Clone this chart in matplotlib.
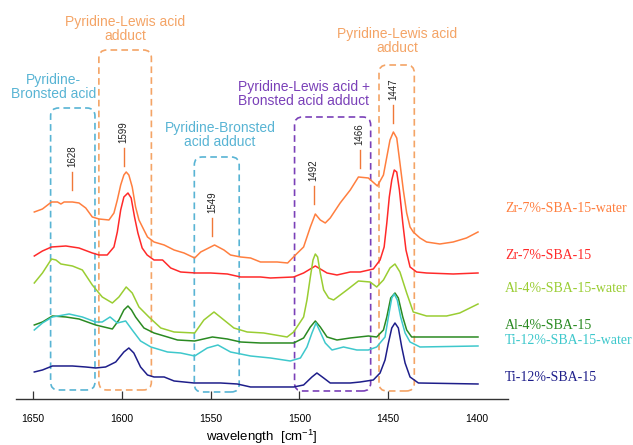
# -*- coding: utf-8 -*-

import numpy as np
import matplotlib
matplotlib.use("Agg")
import matplotlib.pyplot as plt
from matplotlib.patches import FancyBboxPatch

plt.rcParams["font.family"] = ["Liberation Sans", "DejaVu Sans"]
plt.rcParams["mathtext.fontset"] = "custom"
plt.rcParams["mathtext.rm"] = "Liberation Sans"

# spectra, wavenumber [cm-1] vs stacked absorbance (a.u.)
zr_water_wn = [1649.4, 1644.8, 1639.7, 1636.3, 1634.4, 1632.6, 1627.9, 1624.2, 1620.4, 1616.7,
               1612.9, 1607.3, 1604.5, 1602.6, 1600.7, 1598.9, 1597.6, 1596.1, 1594.2, 1592.3,
               1590.4, 1587.6, 1585.6, 1581.9, 1576.2, 1570.6, 1565.0, 1559.0, 1555.6, 1547.8,
               1542.5, 1538.8, 1533.1, 1527.5, 1521.9, 1512.5, 1506.6, 1502.2, 1497.6, 1493.8,
               1491.0, 1488.2, 1485.4, 1482.6, 1477.0, 1471.3, 1466.7, 1461.1, 1456.0, 1452.6,
               1450.7, 1448.9, 1447.0, 1445.1, 1443.3, 1441.4, 1439.5, 1437.6, 1435.8, 1432.0,
               1428.3, 1420.8, 1413.3, 1405.8, 1399.3]
zr_water_ab = [1.87, 1.90, 1.97, 1.97, 1.95, 1.97, 1.97, 1.96, 1.91, 1.82,
               1.80, 1.79, 1.86, 1.99, 2.14, 2.24, 2.27, 2.24, 2.12, 1.92,
               1.79, 1.69, 1.62, 1.57, 1.54, 1.49, 1.46, 1.41, 1.47, 1.54,
               1.49, 1.44, 1.42, 1.41, 1.37, 1.37, 1.36, 1.44, 1.52, 1.72,
               1.85, 1.79, 1.76, 1.81, 1.96, 2.09, 2.22, 2.21, 2.13, 2.24,
               2.42, 2.59, 2.67, 2.61, 2.36, 2.09, 1.86, 1.72, 1.67, 1.61,
               1.57, 1.55, 1.57, 1.61, 1.67]

zr_wn = [1649.4, 1644.8, 1639.7, 1631.6, 1624.2, 1616.7, 1612.9, 1608.3, 1604.5, 1602.6,
         1600.7, 1598.9, 1596.6, 1594.8, 1592.9, 1591.0, 1588.6, 1585.8, 1581.9, 1577.1,
         1572.5, 1566.9, 1558.4, 1550.0, 1540.6, 1533.1, 1521.9, 1516.3, 1503.2, 1497.6,
         1491.0, 1484.4, 1478.8, 1471.3, 1465.7, 1458.3, 1454.5, 1452.2, 1450.7, 1449.3,
         1447.9, 1446.5, 1445.1, 1443.6, 1441.7, 1439.9, 1437.6, 1433.9, 1428.3, 1413.3,
         1399.3]
zr_ab = [1.43, 1.48, 1.52, 1.53, 1.51, 1.46, 1.44, 1.44, 1.52, 1.67,
         1.89, 2.02, 2.06, 2.01, 1.82, 1.66, 1.51, 1.44, 1.39, 1.39,
         1.31, 1.27, 1.26, 1.26, 1.25, 1.22, 1.22, 1.21, 1.22, 1.26,
         1.33, 1.26, 1.24, 1.27, 1.27, 1.30, 1.39, 1.52, 1.76, 2.02,
         2.19, 2.29, 2.27, 2.09, 1.76, 1.49, 1.32, 1.27, 1.26, 1.25,
         1.26]

al_water_wn = [1649.4, 1644.8, 1639.7, 1637.2, 1634.4, 1627.9, 1622.3, 1616.7, 1611.1, 1605.4,
               1601.7, 1597.6, 1594.2, 1590.4, 1584.8, 1578.1, 1570.6, 1559.0, 1553.8, 1548.1,
               1542.5, 1536.9, 1529.4, 1520.1, 1506.9, 1503.2, 1497.6, 1495.7, 1493.8, 1492.3,
               1491.0, 1489.7, 1488.2, 1486.3, 1483.5, 1480.7, 1473.2, 1466.7, 1460.1, 1456.4,
               1452.6, 1448.9, 1446.1, 1443.3, 1439.5, 1435.8, 1428.3, 1417.0, 1409.6, 1399.3]
al_water_ab = [1.16, 1.26, 1.40, 1.39, 1.35, 1.33, 1.29, 1.14, 1.02, 0.96,
               1.02, 1.12, 1.06, 0.92, 0.82, 0.71, 0.67, 0.66, 0.79, 0.87,
               0.79, 0.71, 0.67, 0.66, 0.62, 0.67, 0.82, 0.99, 1.22, 1.39,
               1.45, 1.42, 1.26, 1.09, 1.01, 0.99, 1.09, 1.18, 1.17, 1.12,
               1.19, 1.31, 1.35, 1.27, 1.06, 0.87, 0.83, 0.83, 0.86, 0.95]

al_wn = [1649.4, 1644.8, 1639.2, 1631.6, 1624.2, 1614.8, 1605.4, 1601.7, 1598.9, 1596.6,
         1594.6, 1592.3, 1587.6, 1581.9, 1574.3, 1568.7, 1559.0, 1549.0, 1540.6, 1533.1,
         1521.9, 1503.2, 1497.6, 1493.8, 1491.0, 1488.2, 1484.4, 1478.8, 1471.3, 1461.1,
         1456.4, 1452.6, 1450.7, 1448.5, 1446.1, 1444.2, 1441.7, 1439.5, 1436.7, 1432.0,
         1399.3]
al_ab = [0.74, 0.77, 0.83, 0.82, 0.80, 0.74, 0.70, 0.79, 0.89, 0.93,
         0.89, 0.82, 0.71, 0.66, 0.62, 0.59, 0.58, 0.62, 0.60, 0.57,
         0.56, 0.56, 0.61, 0.72, 0.78, 0.72, 0.62, 0.59, 0.61, 0.63,
         0.62, 0.69, 0.82, 1.01, 1.06, 1.01, 0.82, 0.69, 0.62, 0.62,
         0.62]

ti_water_wn = [1649.4, 1644.8, 1639.2, 1629.8, 1622.3, 1614.8, 1611.1, 1606.7, 1602.6, 1597.9,
               1594.2, 1589.5, 1583.7, 1574.3, 1566.9, 1559.0, 1551.9, 1545.9, 1538.8, 1533.1,
               1527.5, 1516.3, 1505.1, 1499.4, 1495.7, 1492.9, 1490.6, 1488.2, 1485.4, 1481.6,
               1475.1, 1467.6, 1461.1, 1456.4, 1451.7, 1449.8, 1447.9, 1446.5, 1444.8, 1442.9,
               1440.4, 1437.6, 1432.0, 1399.3]
ti_water_ab = [0.69, 0.76, 0.82, 0.85, 0.82, 0.77, 0.77, 0.82, 0.76, 0.78,
               0.69, 0.58, 0.52, 0.47, 0.46, 0.43, 0.51, 0.54, 0.47, 0.45,
               0.43, 0.41, 0.38, 0.41, 0.52, 0.66, 0.76, 0.67, 0.56, 0.49,
               0.52, 0.49, 0.49, 0.52, 0.62, 0.82, 1.01, 1.05, 0.99, 0.82,
               0.66, 0.57, 0.52, 0.53]

ti_wn = [1649.4, 1644.8, 1639.2, 1627.9, 1620.4, 1614.8, 1609.2, 1603.5, 1598.9, 1596.1,
         1593.3, 1589.5, 1585.6, 1581.9, 1576.2, 1570.6, 1559.4, 1544.4, 1535.0, 1527.5,
         1503.2, 1497.6, 1492.9, 1490.1, 1486.3, 1482.6, 1471.3, 1465.7, 1458.3, 1454.5,
         1451.7, 1449.8, 1447.9, 1446.1, 1444.2, 1442.3, 1440.4, 1437.6, 1432.9, 1399.3]
ti_ab = [0.27, 0.29, 0.33, 0.33, 0.32, 0.31, 0.32, 0.37, 0.47, 0.51,
         0.46, 0.32, 0.24, 0.22, 0.22, 0.18, 0.16, 0.16, 0.15, 0.12,
         0.12, 0.14, 0.22, 0.26, 0.21, 0.16, 0.16, 0.17, 0.19, 0.26,
         0.39, 0.56, 0.71, 0.76, 0.71, 0.52, 0.36, 0.22, 0.16, 0.15]

sample_names = ["Zr-7%-SBA-15-water", "Zr-7%-SBA-15", "Al-4%-SBA-15-water",
                "Al-4%-SBA-15", "Ti-12%-SBA-15-water", "Ti-12%-SBA-15"]
name_levels = [1.90, 1.43, 1.10, 0.73, 0.58, 0.21]

peak_labels = [1628, 1599, 1549, 1492, 1466, 1447]
peak_text_y = [2.43, 2.67, 1.97, 2.29, 2.65, 3.10]

wn_ticks = [1650, 1600, 1550, 1500, 1450, 1400]

colors = ["#ff7f3f", "#ff2a2a", "#9acd32", "#2a8a22", "#3ec8cc", "#1e1e8a"]
c_orange = "#f4a466"
c_cyan = "#58b4d4"
c_purple = "#7a40b8"


def DrawBox(ax, x_left, x_right, y_bot, y_top, color):
    box = FancyBboxPatch((x_right, y_bot), x_left - x_right, y_top - y_bot,
                         boxstyle="round,pad=0,rounding_size=4.5", mutation_aspect=0.0178,
                         fill=False, ec=color, lw=1.2, ls=(0, (4, 2.5)), clip_on=False)
    ax.add_patch(box)


def FigureResult():
    fig = plt.figure(figsize=(6.33, 4.45), dpi=100)
    ax = fig.add_axes([0.0253, 0.1034, 0.7772, 0.8966])

    spectra = [(zr_water_wn, zr_water_ab), (zr_wn, zr_ab), (al_water_wn, al_water_ab),
               (al_wn, al_ab), (ti_water_wn, ti_water_ab), (ti_wn, ti_ab)]
    for (wn, ab), c in zip(spectra, colors):
        ax.plot(wn, ab, color=c, lw=1.1)

    # right-hand sample names
    for name, lv, c in zip(sample_names, name_levels, colors):
        ax.text(1384.1, lv, name, color=c, fontsize=10, family="Liberation Serif",
                ha="left", va="center", clip_on=False)

    # dashed boxes round the bands
    DrawBox(ax, 1640.2, 1615.2, 0.09, 2.91, c_cyan)
    DrawBox(ax, 1613.0, 1583.4, 0.09, 3.49, c_orange)
    DrawBox(ax, 1559.2, 1533.9, 0.07, 2.42, c_cyan)
    DrawBox(ax, 1502.7, 1459.8, 0.08, 2.82, c_purple)
    DrawBox(ax, 1455.1, 1435.2, 0.08, 3.34, c_orange)

    ax.text(1638.6, 3.12, "Pyridine-\nBronsted acid", color=c_cyan, fontsize=10,
            ha="center", va="center", linespacing=1.05)
    ax.text(1598.3, 3.70, "Pyridine-Lewis acid\nadduct", color=c_orange, fontsize=10,
            ha="center", va="center", linespacing=1.05)
    ax.text(1544.8, 2.64, "Pyridine-Bronsted\nacid adduct", color=c_cyan, fontsize=10,
            ha="center", va="center", linespacing=1.05)
    ax.text(1497.6, 3.05, "Pyridine-Lewis acid +\nBronsted acid adduct", color=c_purple,
            fontsize=10, ha="center", va="center", linespacing=1.05)
    ax.text(1445.0, 3.58, "Pyridine-Lewis acid\nadduct", color=c_orange, fontsize=10,
            ha="center", va="center", linespacing=1.05)

    # peak markers
    for pk, ty in zip(peak_labels, peak_text_y):
        ax.plot([pk, pk], [ty - 0.34, ty - 0.16], color="#f07838", lw=1.0)
        ax.text(pk, ty, str(pk), rotation=90, fontsize=7, color="#222222",
                ha="center", va="center")

    ax.set_xlim(1659.7, 1382.4)
    ax.set_ylim(0, 3.99)
    for s in ["left", "top", "right"]:
        ax.spines[s].set_visible(False)
    ax.spines["bottom"].set_color("#333333")
    ax.spines["bottom"].set_linewidth(1.0)
    ax.set_yticks([])
    ax.set_xticks(wn_ticks)
    ax.tick_params(axis="x", direction="in", length=6, width=0.9, color="#333333",
                   labelsize=7.5, pad=11)
    ax.xaxis.get_major_ticks()[-1].tick1line.set_visible(False)
    ax.set_xlabel("wavelength  [cm$^{-1}$]", fontsize=9.5)
    ax.xaxis.set_label_coords(0.5, -0.072)

    fig.savefig("out.png", dpi=100)


if __name__ == "__main__":
    FigureResult()
